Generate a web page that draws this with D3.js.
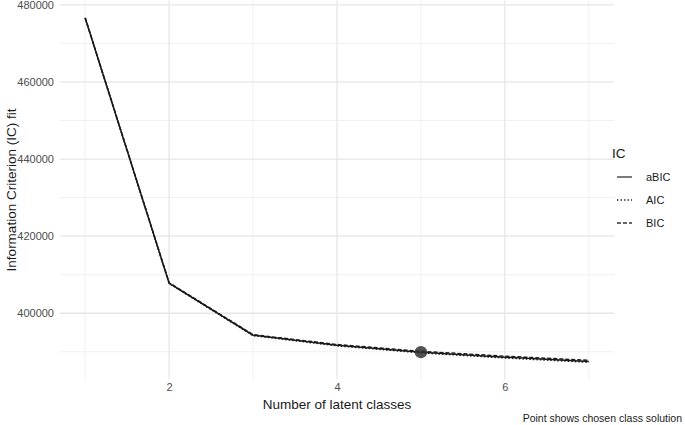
<!DOCTYPE html>
<html><head><meta charset="utf-8">
<script src="https://cdn.jsdelivr.net/npm/d3@7"></script>
<style>
body{margin:0;background:#fff;}
svg{display:block;font-family:"Liberation Sans",Arial,Helvetica,sans-serif;}
</style></head>
<body><svg id="chart" width="685" height="425"></svg>
<script>
const classes = [1, 2, 3, 4, 5, 6, 7];
const aBIC = [476600, 407800, 394300, 391700, 389900, 388600, 387500];
const AIC  = [476560, 407730, 394190, 391560, 389730, 388400, 387280];
const BIC  = [476660, 407900, 394440, 391880, 390120, 388850, 387780];
const seriesNames = ["aBIC", "AIC", "BIC"];
const seriesDash = {aBIC: null, AIC: "1.5,2", BIC: "4,2"};
const chosenClass = 5;
const xTicks = [2, 4, 6];
const xMinor = [1, 3, 5, 7];
const yTicks = [400000, 420000, 440000, 460000, 480000];
const yMinor = [390000, 410000, 430000, 450000, 470000];

const svg = d3.select("#chart");
const panel = {left: 60, right: 614, top: 0.5, bottom: 379.5};
const allVals = aBIC.concat(AIC, BIC);
const yMin = d3.min(allVals), yMax = d3.max(allVals), yPad = (yMax - yMin) * 0.05;
const x = d3.scaleLinear().domain([0.7, 7.3]).range([panel.left, panel.right]);
const y = d3.scaleLinear().domain([yMin - yPad, yMax + yPad]).range([panel.bottom, panel.top]);

const grid = svg.append("g");
grid.selectAll(".ymin").data(yMinor).enter().append("line")
  .attr("x1", panel.left).attr("x2", panel.right)
  .attr("y1", d => y(d)).attr("y2", d => y(d))
  .attr("stroke", "#f0f0f0").attr("stroke-width", 1);
grid.selectAll(".xmin").data(xMinor).enter().append("line")
  .attr("y1", panel.top).attr("y2", panel.bottom)
  .attr("x1", d => x(d)).attr("x2", d => x(d))
  .attr("stroke", "#f0f0f0").attr("stroke-width", 1);
grid.selectAll(".ymaj").data(yTicks).enter().append("line")
  .attr("x1", panel.left).attr("x2", panel.right)
  .attr("y1", d => y(d)).attr("y2", d => y(d))
  .attr("stroke", "#e6e6e6").attr("stroke-width", 1.3);
grid.selectAll(".xmaj").data(xTicks).enter().append("line")
  .attr("y1", panel.top).attr("y2", panel.bottom)
  .attr("x1", d => x(d)).attr("x2", d => x(d))
  .attr("stroke", "#e6e6e6").attr("stroke-width", 1.3);

// axes (text only, ggplot minimal style)
const yAxis = d3.axisLeft(y).tickValues(yTicks).tickSize(0).tickPadding(6).tickFormat(d3.format("d"));
const gy = svg.append("g").attr("transform", `translate(${panel.left},0)`).call(yAxis);
gy.select(".domain").remove();
gy.selectAll("text").attr("fill", "#4d4d4d").style("font-size", "11px")
  .style("font-family", '"Liberation Sans",Arial,sans-serif');

const xAxis = d3.axisBottom(x).tickValues(xTicks).tickSize(0).tickPadding(4).tickFormat(d3.format("d"));
const gx = svg.append("g").attr("transform", `translate(0,${panel.bottom})`).call(xAxis);
gx.select(".domain").remove();
gx.selectAll("text").attr("fill", "#4d4d4d").style("font-size", "11px")
  .style("font-family", '"Liberation Sans",Arial,sans-serif');

// lines
const data = {aBIC, AIC, BIC};
const line = d3.line().x((d, i) => x(classes[i])).y(d => y(d));
seriesNames.forEach(name => {
  svg.append("path").datum(data[name])
    .attr("d", line).attr("fill", "none")
    .attr("stroke", "#1a1a1a").attr("stroke-width", 1.5)
    .attr("stroke-dasharray", seriesDash[name]);
});

// chosen point
const ci = classes.indexOf(chosenClass);
svg.append("circle").attr("cx", x(chosenClass)).attr("cy", y(aBIC[ci]))
  .attr("r", 6.2).attr("fill", "#333333").attr("fill-opacity", 0.85);

// titles
svg.append("text").attr("x", (panel.left + panel.right) / 2).attr("y", 409)
  .attr("text-anchor", "middle").style("font-size", "13.5px").attr("fill", "#1a1a1a")
  .text("Number of latent classes");
svg.append("text").attr("transform", `translate(16,${(panel.top + panel.bottom) / 2}) rotate(-90)`)
  .attr("text-anchor", "middle").style("font-size", "13.5px").attr("fill", "#1a1a1a")
  .text("Information Criterion (IC) fit");
svg.append("text").attr("x", 682).attr("y", 422).attr("text-anchor", "end")
  .style("font-size", "10.5px").attr("fill", "#1a1a1a")
  .text("Point shows chosen class solution");

// legend
const lg = svg.append("g").attr("transform", "translate(612,0)");
lg.append("text").attr("x", 0).attr("y", 158).style("font-size", "13.5px").attr("fill", "#1a1a1a").text("IC");
seriesNames.forEach((name, i) => {
  const yy = 177 + i * 23;
  lg.append("line").attr("x1", 5).attr("x2", 20).attr("y1", yy).attr("y2", yy)
    .attr("stroke", "#333").attr("stroke-width", 1.3)
    .attr("stroke-dasharray", seriesDash[name]);
  lg.append("text").attr("x", 34).attr("y", yy + 4).style("font-size", "11px")
    .attr("fill", "#1a1a1a").text(name);
});
</script>
</body></html>
